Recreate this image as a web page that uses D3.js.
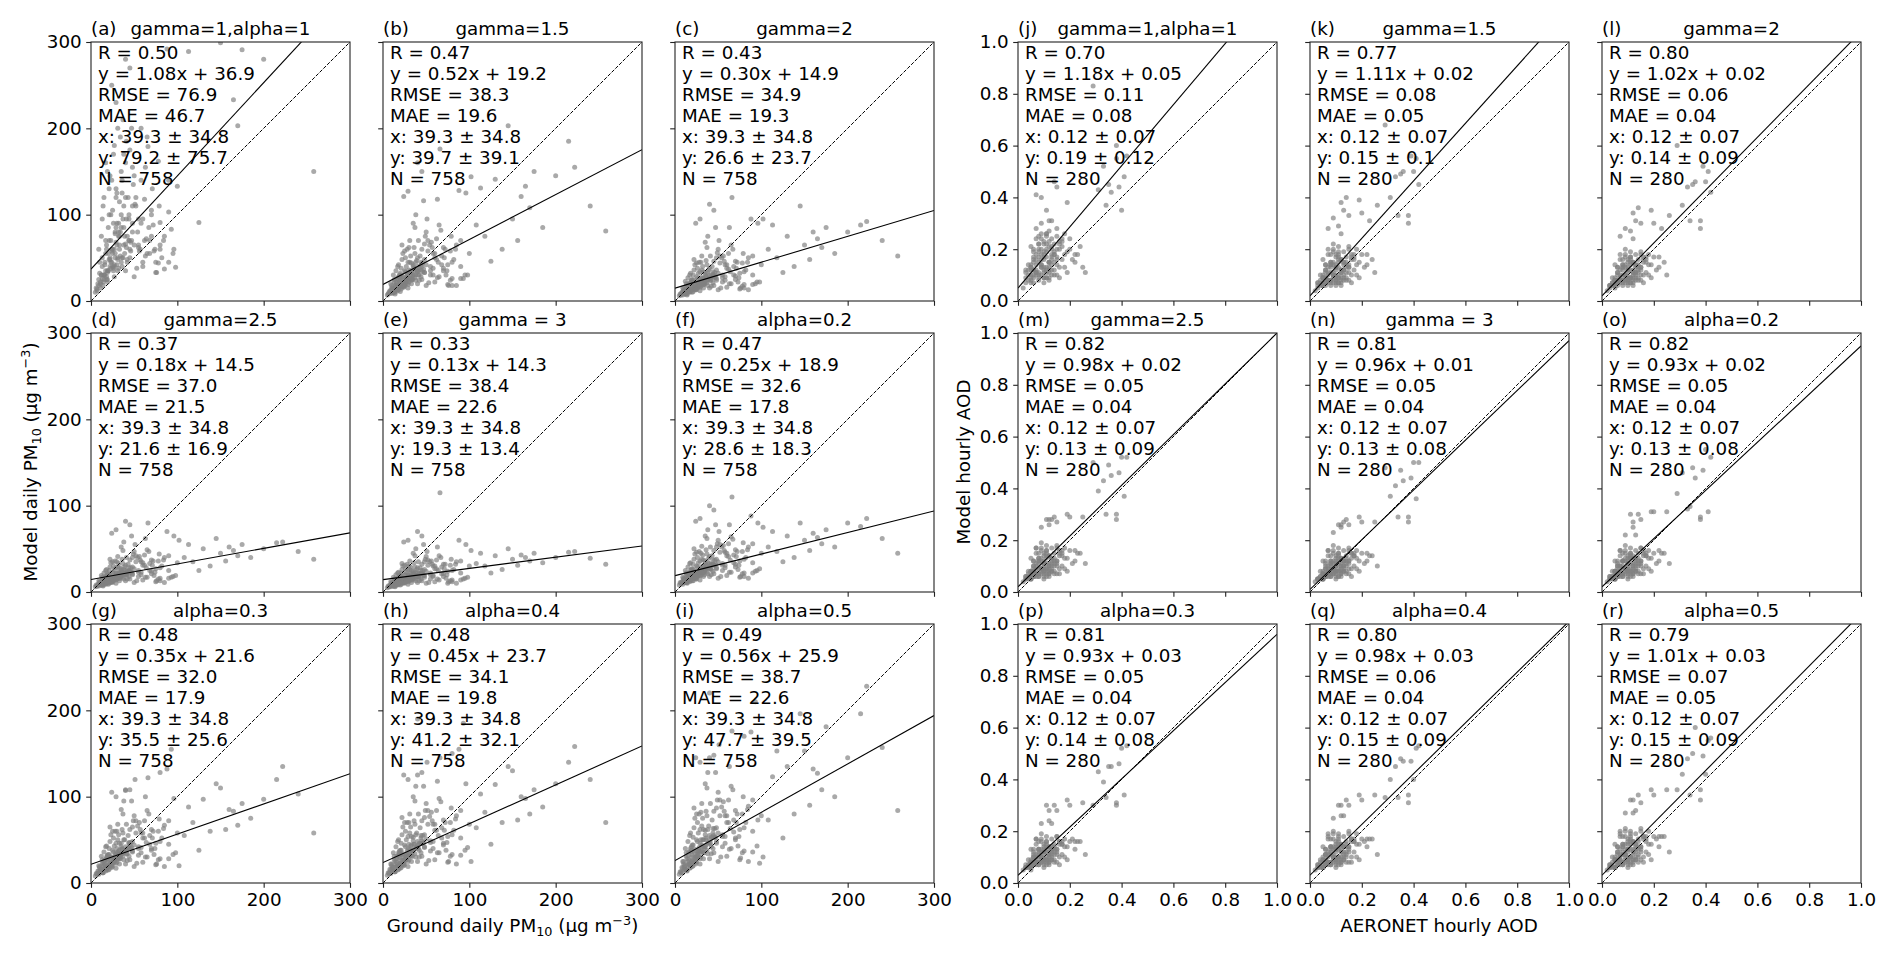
<!DOCTYPE html>
<html><head><meta charset="utf-8">
<script src="https://cdn.jsdelivr.net/npm/d3@7"></script>
<style>body{margin:0;background:#fff} text{font-family:"DejaVu Sans",sans-serif;fill:#000}</style>
</head><body><svg id="c" width="1892" height="956"></svg>
<script>
// ---------------- DATA ----------------
// Ground daily PM10 (x, shared by panels a-i)
const pmX = [
8,10,12,14,15,17,18,20,21,22, 23,24,25,26,27,28,29,30,31,32,
9,11,13,16,19,21,24,26,28,30, 33,34,35,36,37,38,39,40,41,42,
12,15,18,20,22,25,27,29,32,35, 43,44,45,46,47,48,49,50,52,54,
14,17,19,23,26,29,31,34,37,40, 55,57,58,60,62,64,66,68,70,72,
16,20,24,28,33,38,44,50,56,62, 10,13,18,22,27,32,36,41,46,51,
74,76,78,80,82,85,88,90,93,96, 45,52,58,63,67,71,75,79,84,98,
102,108,113,118,125,130,138,145,150,156, 160,165,170,175,185,200,215,222,240,258,
35,40,48,55,60,65,70,80,90,100,
6,9,11,13,15,17,19,21,23,25, 27,29,31,33,35,37,39,42,45,48, 7,12,16,20,24,28,32,36,40,44, 18,22,26,30,34,38,14,19,24,30,
40,45,50,55,60,65,70,75,80,85, 90,95,42,48,53,58,63,68,73,78, 5,7,9,11,13,15,17,19,21,23, 25,27,29,31,33,36,38,41,44,47];
// Model daily PM10 (y) per panel
const yA = [20,45,30,110,25,160,60,35,130,50, 70,140,40,90,180,55,120,65,200,75,
60,15,95,30,150,100,45,170,80,125, 60,190,85,140,50,110,75,160,95,45,
75,120,28,85,40,105,60,230,38,150, 120,70,175,58,200,90,135,65,110,80,
18,70,22,100,35,130,48,80,210,66, 95,60,140,45,118,72,179,55,100,88,
42,55,250,78,115,170,100,145,58,70, 32,50,65,145,28,90,125,185,68,112,
60,33,162,91,50,75,292,103,83,60, 270,120,200,155,85,130,45,110,70,39,
320,350,289,330,91,310,340,360,299,315, 330,233,203,291,380,280,400,320,345,150,
100,280,155,62,95,190,105,65,140,133,
15,25,20,40,30,55,35,70,45,60, 40,85,50,65,45,95,55,75,60,110, 12,30,45,35,60,50,80,40,120,70, 25,48,38,90,52,65,22,33,58,42,
35,50,28,65,40,55,75,33,60,37, 45,55,48,80,38,90,52,70,58,44, 10,14,18,22,26,30,35,25,48,38, 55,42,68,35,75,50,85,62,95,70];
const yB = [12,15,10,18,22,14,25,20,30,16, 28,19,35,22,40,26,31,24,45,30,
20,9,25,13,30,38,17,50,27,62, 33,28,42,36,55,30,47,40,70,38,
30,35,42,11,48,58,20,127,35,90, 52,45,60,34,116,48,75,42,58,65,
8,40,16,55,34,45,70,25,85,50, 40,62,30,55,72,45,176,52,38,60,
26,32,121,60,44,100,36,80,68,48, 18,22,28,65,24,52,62,30,44,95,
35,18,58,18,48,65,128,40,26,125, 150,70,55,118,82,50,42,75,60,30,
144,88,131,75,46,141,60,203,95,70, 121,133,108,150,85,145,185,155,110,81,
40,160,66,35,50,88,62,45,70,55,
8,12,15,10,18,14,22,17,25,20, 28,19,33,24,30,27,35,30,40,33, 9,14,20,24,18,30,26,38,34,42, 13,27,21,36,25,45,10,28,16,22,
20,25,18,30,22,28,35,19,26,18, 26,30,24,33,21,38,27,42,30,24, 7,10,9,13,11,16,12,18,14,21, 17,23,15,26,20,31,24,35,28,37];
const yC = [10,12,8,15,18,11,20,14,24,13, 22,16,28,18,32,20,25,19,36,24,
15,8,20,11,24,30,14,38,21,45, 26,22,33,28,42,24,36,30,52,29,
23,27,32,10,36,44,16,95,27,68, 40,34,46,27,85,36,56,32,44,50,
7,30,13,42,26,34,52,20,62,38, 30,46,24,42,55,34,120,40,29,45,
20,25,90,45,34,75,28,60,52,37, 14,17,22,48,19,40,47,24,33,70,
27,15,44,15,36,50,95,30,20,90, 105,52,42,85,60,38,32,55,45,22,
95,60,88,50,33,75,40,110,65,48, 80,72,62,85,55,80,88,92,70,52,
30,112,50,27,38,65,46,34,52,42,
8,10,12,9,14,12,17,14,19,16, 21,16,24,19,23,21,27,24,30,26, 7,11,15,18,14,22,20,28,26,31, 11,20,16,27,19,33,8,21,13,17,
15,18,13,22,16,20,25,14,19,13, 19,22,17,24,15,28,20,30,22,17, 6,8,7,10,9,12,10,14,11,16, 13,17,12,20,15,24,18,26,21,28];
const yD = [9,11,8,13,15,10,17,12,20,11, 18,14,23,15,26,17,21,16,29,20,
13,8,17,10,20,25,12,30,18,35, 22,19,27,23,33,20,29,25,40,24,
19,22,26,9,29,35,14,72,23,52, 32,28,37,23,65,29,44,27,35,40,
7,25,11,34,22,28,41,18,48,31, 25,37,20,34,43,28,80,33,24,36,
17,21,68,36,28,58,24,47,41,31, 12,15,19,38,16,33,38,20,28,55,
23,13,36,13,30,40,70,25,17,65, 78,42,35,62,47,31,27,44,37,19,
60,40,55,35,25,50,30,62,45,36, 52,48,42,55,40,50,57,58,47,38,
25,82,40,23,31,49,37,28,42,34,
8,9,11,9,12,11,14,12,16,14, 17,14,19,16,19,17,22,20,24,21, 7,10,13,15,12,18,17,22,21,25, 10,17,14,22,16,26,8,18,12,15,
13,15,11,18,14,17,21,12,16,11, 16,18,15,20,13,23,17,25,19,15, 6,7,7,9,8,10,9,12,10,13, 11,14,10,16,13,19,15,21,18,23];
const yE = [8,10,7,12,14,9,15,11,18,10, 16,13,20,14,23,15,19,14,26,18,
12,7,15,9,18,22,11,27,16,30, 20,17,24,21,29,18,26,22,35,21,
17,20,23,8,26,31,13,60,21,45, 28,25,32,21,55,26,38,24,31,35,
6,22,10,30,20,25,36,16,42,28, 22,32,18,30,37,25,115,29,21,32,
15,19,58,32,25,50,21,41,36,27, 11,13,17,33,14,29,34,18,25,47,
20,12,31,12,26,35,60,22,15,55, 65,37,30,52,40,27,24,38,32,17,
48,33,45,30,22,42,26,50,38,31, 43,40,36,45,34,40,46,47,39,32,
22,70,35,20,27,42,32,25,36,30,
7,8,10,8,11,10,12,11,14,12, 15,12,17,14,17,15,19,17,21,19, 6,9,11,13,11,16,15,19,18,22, 9,15,12,19,14,23,7,16,11,13,
11,13,10,15,12,14,18,10,14,10, 14,16,13,17,11,19,15,21,16,13, 5,6,6,8,7,9,8,10,9,11, 10,12,9,14,11,16,13,18,15,19];
const yF = [12,15,11,18,20,14,22,17,26,16, 24,19,30,21,34,23,28,22,38,27,
17,11,22,14,26,32,17,40,24,45, 30,26,36,31,44,28,39,33,52,32,
25,29,34,13,38,46,19,85,30,65, 42,37,48,31,78,38,56,35,46,52,
10,33,15,44,29,36,53,24,62,41, 33,48,28,45,56,37,110,43,32,47,
22,27,82,47,37,72,32,60,54,41, 16,19,25,50,22,43,49,27,37,70,
31,18,47,18,40,52,88,34,24,80, 95,55,46,78,61,41,36,57,49,27,
75,52,70,47,35,65,40,80,60,48, 68,63,56,72,52,80,76,85,62,45,
33,100,52,31,42,64,49,38,56,45,
11,12,14,12,16,15,18,17,20,19, 22,19,25,22,25,23,28,26,31,28, 10,14,17,20,16,23,22,28,27,32, 13,21,18,27,20,34,11,22,15,19,
18,21,16,25,19,23,29,17,22,16, 22,25,20,27,18,31,23,34,26,21, 8,10,9,12,11,14,12,16,13,18, 15,20,14,23,18,27,21,30,24,32];
const yG = [14,18,13,22,25,17,28,20,33,19, 30,23,38,26,43,28,35,27,50,33,
20,13,27,17,32,40,21,52,30,60, 38,32,46,39,58,35,50,42,68,40,
31,36,43,15,48,60,24,100,37,85, 55,47,62,40,95,48,72,44,58,66,
12,42,18,56,36,46,68,30,80,108, 42,62,35,58,72,47,122,55,40,60,
27,33,105,60,46,95,40,78,70,52, 19,23,30,65,27,56,62,34,47,120,
40,22,60,128,52,67,132,45,155,98, 108,72,58,100,80,52,46,74,63,35,
20,55,88,70,38,97,60,115,110,62, 85,83,67,92,75,97,120,135,103,58,
42,107,65,40,52,84,62,48,72,58,
11,14,16,13,20,17,24,20,27,24, 30,23,35,28,34,31,38,34,44,37, 10,16,22,26,20,33,29,40,37,46, 15,30,24,40,28,50,12,31,18,24,
22,27,19,32,24,30,38,21,28,19, 28,33,26,36,23,41,30,45,33,27, 8,11,10,14,12,17,14,20,16,23, 19,25,17,29,22,34,27,38,31,41];
const yH = [16,20,14,25,28,19,32,23,38,21, 34,26,44,30,50,32,40,31,58,37,
22,14,31,19,37,46,24,60,34,70, 44,37,53,45,68,40,58,48,80,46,
35,42,50,17,56,70,27,120,43,100, 64,55,72,46,112,56,84,51,68,77,
13,48,20,65,42,54,80,35,95,125, 49,72,40,68,84,55,145,64,46,70,
31,38,125,70,54,112,46,92,82,61, 22,27,35,76,31,65,72,40,55,140,
47,25,70,150,61,78,155,52,185,115, 128,84,68,118,94,61,54,87,74,41,
25,64,103,82,45,114,70,135,130,73, 100,98,80,108,88,115,140,158,120,70,
49,190,76,47,61,98,73,56,84,68,
12,15,18,14,22,19,27,22,30,27, 33,25,39,31,38,34,42,38,49,41, 11,18,24,29,22,37,32,45,41,52, 16,33,27,45,31,56,13,34,20,27,
25,31,22,37,27,35,44,24,33,22, 32,38,30,42,26,48,35,52,38,31, 9,12,11,16,13,19,15,22,18,26, 21,28,19,33,25,39,30,44,35,47];
const yI = [18,22,16,28,32,21,36,26,44,24, 39,30,50,34,58,37,46,36,66,42,
25,16,35,22,42,53,28,70,39,82, 50,42,61,52,78,46,66,55,92,53,
40,48,58,19,64,80,31,140,50,115, 73,63,83,53,128,64,96,58,78,88,
15,55,23,75,48,62,92,40,110,145, 56,83,46,78,96,63,176,73,52,80,
36,44,145,80,62,128,53,105,94,70, 25,31,40,87,36,75,83,46,63,160,
54,29,80,170,70,89,175,60,210,73, 148,96,78,135,108,70,62,100,85,23,
30,73,123,153,52,135,80,196,153,90, 132,127,108,181,100,145,196,228,157,84,
56,220,87,54,70,112,84,64,96,78,
13,17,20,15,25,21,30,25,34,30, 37,28,44,35,42,38,47,42,55,46, 12,20,27,32,25,41,36,50,46,58, 18,37,30,50,35,62,14,38,22,30,
28,35,25,42,31,40,50,27,37,25, 36,43,34,48,30,54,39,59,43,35, 10,13,12,18,15,21,17,25,20,29, 24,32,22,37,28,44,34,50,40,53];

// AERONET hourly AOD (x, shared by panels j-r)
const aodX = [
0.03,0.04,0.05,0.05,0.06,0.06,0.07,0.07,0.08,0.08, 0.09,0.09,0.10,0.10,0.11,0.11,0.12,0.12,0.13,0.13,
0.04,0.05,0.06,0.07,0.08,0.09,0.10,0.11,0.12,0.13, 0.14,0.14,0.15,0.15,0.16,0.16,0.17,0.18,0.19,0.20,
0.02,0.03,0.05,0.06,0.07,0.08,0.09,0.10,0.11,0.12, 0.06,0.07,0.08,0.09,0.10,0.11,0.12,0.13,0.14,0.15,
0.08,0.09,0.10,0.11,0.12,0.13,0.14,0.15,0.17,0.19, 0.05,0.07,0.09,0.11,0.13,0.15,0.10,0.12,0.14,0.16,
0.20,0.21,0.22,0.22,0.23,0.24,0.25,0.26,
0.29,0.31,0.33,0.34,0.35,0.36,0.38,0.38,0.39,0.40,0.41,0.42,
0.04,0.05,0.06,0.07,0.08,0.09,0.10,0.11,0.12,0.13, 0.05,0.06,0.07,0.08,0.09,0.10,0.11,0.12,0.14,0.16,
0.03,0.06,0.08,0.10,0.12,0.13,0.15,0.17,0.18,0.11,
0.03,0.04,0.05,0.06,0.07,0.08,0.09,0.10,0.11,0.12, 0.13,0.14,0.15,0.16,0.17,0.18,0.19,0.06,0.08,0.10,
0.12,0.14,0.05,0.07,0.09,0.11,0.13,0.15,0.09,0.11];
// Model hourly AOD (y) per panel
const yJ = [0.11,0.12,0.10,0.14,0.09,0.16,0.12,0.18,0.08,0.15, 0.20,0.10,0.22,0.13,0.17,0.25,0.09,0.21,0.14,0.24,
0.08,0.13,0.19,0.24,0.11,0.26,0.16,0.19,0.12,0.18, 0.22,0.15,0.28,0.17,0.23,0.13,0.21,0.26,0.19,0.24,
0.05,0.07,0.21,0.12,0.41,0.17,0.40,0.23,0.35,0.31, 0.10,0.14,0.09,0.18,0.12,0.20,0.15,0.31,0.46,0.44,
0.19,0.24,0.17,0.22,0.27,0.12,0.18,0.25,0.16,0.38, 0.09,0.11,0.13,0.09,0.10,0.14,0.11,0.08,0.12,0.20,
0.20,0.16,0.18,0.15,0.18,0.21,0.13,0.11,
0.83,0.43,0.52,0.37,0.45,0.42,0.60,0.55,0.44,0.35,0.48,0.56,
0.10,0.13,0.15,0.11,0.20,0.14,0.18,0.12,0.23,0.16, 0.08,0.12,0.16,0.10,0.14,0.19,0.11,0.15,0.19,0.22,
0.12,0.07,0.22,0.09,0.13,0.20,0.16,0.23,0.18,0.26,
0.09,0.14,0.07,0.17,0.10,0.22,0.13,0.09,0.26,0.11, 0.17,0.10,0.20,0.09,0.24,0.13,0.11,0.20,0.25,0.07,
0.15,0.18,0.12,0.28,0.16,0.13,0.21,0.10,0.30,0.09];
const yK = [0.07,0.08,0.06,0.10,0.07,0.12,0.08,0.13,0.06,0.11, 0.15,0.07,0.17,0.10,0.13,0.19,0.07,0.16,0.10,0.19,
0.06,0.09,0.14,0.18,0.08,0.20,0.12,0.15,0.09,0.14, 0.17,0.11,0.21,0.13,0.18,0.10,0.16,0.20,0.15,0.18,
0.04,0.05,0.16,0.09,0.28,0.13,0.32,0.18,0.29,0.26, 0.07,0.10,0.07,0.14,0.09,0.16,0.12,0.35,0.40,0.33,
0.14,0.19,0.13,0.17,0.38,0.09,0.14,0.20,0.12,0.39, 0.07,0.08,0.10,0.07,0.08,0.11,0.08,0.06,0.09,0.16,
0.34,0.13,0.18,0.14,0.31,0.16,0.11,0.37,
0.68,0.40,0.48,0.33,0.49,0.50,0.33,0.30,0.56,0.50,0.55,0.45,
0.07,0.09,0.11,0.08,0.14,0.10,0.13,0.09,0.16,0.12, 0.06,0.09,0.11,0.08,0.10,0.14,0.09,0.12,0.15,0.17,
0.07,0.06,0.15,0.08,0.11,0.15,0.13,0.18,0.14,0.21,
0.06,0.10,0.06,0.12,0.07,0.15,0.09,0.07,0.18,0.08, 0.12,0.08,0.14,0.07,0.17,0.10,0.09,0.14,0.18,0.06,
0.11,0.13,0.09,0.20,0.11,0.10,0.15,0.08,0.22,0.07];
const yL = [0.06,0.07,0.06,0.09,0.07,0.11,0.08,0.12,0.06,0.10, 0.14,0.07,0.15,0.09,0.12,0.17,0.07,0.15,0.10,0.18,
0.06,0.08,0.13,0.16,0.08,0.18,0.11,0.14,0.09,0.13, 0.16,0.11,0.19,0.12,0.17,0.10,0.15,0.18,0.14,0.17,
0.04,0.05,0.14,0.08,0.25,0.12,0.28,0.16,0.27,0.24, 0.07,0.09,0.07,0.13,0.09,0.15,0.11,0.31,0.36,0.30,
0.13,0.17,0.12,0.16,0.34,0.09,0.13,0.18,0.11,0.35, 0.06,0.08,0.09,0.07,0.08,0.10,0.08,0.06,0.09,0.15,
0.30,0.12,0.17,0.13,0.28,0.15,0.10,0.33,
0.60,0.37,0.44,0.31,0.45,0.46,0.31,0.28,0.52,0.46,0.50,0.42,
0.07,0.08,0.10,0.08,0.13,0.10,0.12,0.09,0.15,0.11, 0.06,0.08,0.10,0.08,0.10,0.13,0.09,0.12,0.14,0.16,
0.06,0.06,0.14,0.08,0.11,0.14,0.13,0.17,0.14,0.19,
0.06,0.09,0.05,0.11,0.07,0.14,0.08,0.07,0.17,0.08, 0.11,0.08,0.13,0.07,0.16,0.10,0.09,0.13,0.16,0.06,
0.10,0.12,0.08,0.18,0.10,0.09,0.14,0.08,0.20,0.07];
const yM = [0.06,0.07,0.05,0.08,0.06,0.10,0.07,0.11,0.06,0.09, 0.13,0.07,0.14,0.09,0.11,0.16,0.07,0.14,0.09,0.17,
0.05,0.08,0.12,0.15,0.07,0.17,0.10,0.13,0.08,0.12, 0.15,0.10,0.18,0.11,0.16,0.09,0.14,0.17,0.13,0.16,
0.04,0.05,0.13,0.08,0.17,0.11,0.25,0.15,0.28,0.26, 0.06,0.09,0.06,0.12,0.08,0.14,0.10,0.28,0.29,0.27,
0.12,0.16,0.11,0.15,0.28,0.08,0.12,0.17,0.10,0.30, 0.06,0.07,0.09,0.07,0.08,0.10,0.07,0.06,0.08,0.14,
0.29,0.11,0.16,0.12,0.15,0.15,0.29,0.11,
0.50,0.39,0.43,0.30,0.49,0.45,0.30,0.28,0.46,0.52,0.37,0.52,
0.06,0.08,0.09,0.07,0.12,0.09,0.11,0.09,0.14,0.11, 0.05,0.08,0.10,0.07,0.09,0.12,0.09,0.11,0.13,0.15,
0.06,0.06,0.13,0.08,0.10,0.13,0.12,0.16,0.13,0.18,
0.05,0.08,0.05,0.10,0.06,0.13,0.08,0.06,0.16,0.07, 0.10,0.07,0.12,0.07,0.15,0.09,0.08,0.12,0.15,0.05,
0.09,0.11,0.07,0.17,0.09,0.08,0.13,0.07,0.19,0.06];
const yN = [0.05,0.06,0.05,0.08,0.06,0.09,0.07,0.10,0.06,0.09, 0.12,0.07,0.13,0.08,0.11,0.15,0.07,0.13,0.09,0.16,
0.05,0.07,0.11,0.14,0.07,0.16,0.10,0.12,0.08,0.12, 0.14,0.10,0.17,0.11,0.15,0.09,0.14,0.16,0.12,0.15,
0.04,0.05,0.12,0.07,0.16,0.10,0.23,0.14,0.26,0.25, 0.06,0.08,0.06,0.11,0.08,0.13,0.10,0.27,0.28,0.26,
0.11,0.15,0.10,0.14,0.26,0.08,0.12,0.16,0.10,0.29, 0.05,0.07,0.08,0.06,0.08,0.09,0.07,0.06,0.08,0.13,
0.27,0.11,0.15,0.12,0.14,0.14,0.27,0.10,
0.48,0.37,0.41,0.29,0.47,0.43,0.29,0.27,0.44,0.50,0.36,0.50,
0.06,0.07,0.09,0.07,0.11,0.09,0.11,0.08,0.13,0.10, 0.05,0.07,0.09,0.07,0.09,0.12,0.09,0.11,0.13,0.15,
0.05,0.06,0.12,0.08,0.10,0.12,0.12,0.15,0.13,0.17,
0.05,0.08,0.05,0.10,0.06,0.12,0.07,0.06,0.15,0.07, 0.10,0.07,0.12,0.06,0.14,0.09,0.08,0.12,0.14,0.05,
0.09,0.11,0.07,0.16,0.09,0.08,0.12,0.07,0.18,0.06];
const yO = [0.06,0.06,0.05,0.08,0.06,0.10,0.07,0.10,0.06,0.09, 0.13,0.07,0.13,0.09,0.11,0.15,0.07,0.14,0.09,0.16,
0.05,0.08,0.11,0.14,0.07,0.16,0.10,0.13,0.08,0.12, 0.15,0.10,0.17,0.11,0.16,0.09,0.14,0.16,0.13,0.15,
0.04,0.05,0.12,0.08,0.16,0.10,0.22,0.14,0.30,0.25, 0.06,0.08,0.06,0.12,0.08,0.13,0.10,0.22,0.30,0.28,
0.12,0.15,0.11,0.14,0.27,0.08,0.12,0.17,0.10,0.31, 0.05,0.07,0.09,0.07,0.08,0.10,0.07,0.06,0.08,0.14,
0.31,0.11,0.16,0.12,0.15,0.15,0.31,0.11,
0.38,0.46,0.32,0.33,0.48,0.44,0.29,0.28,0.47,0.55,0.31,0.52,
0.06,0.08,0.09,0.07,0.12,0.09,0.11,0.08,0.13,0.11, 0.05,0.07,0.10,0.07,0.09,0.12,0.09,0.11,0.13,0.15,
0.06,0.06,0.12,0.08,0.10,0.13,0.12,0.15,0.13,0.17,
0.05,0.08,0.05,0.10,0.06,0.12,0.08,0.06,0.15,0.07, 0.10,0.07,0.12,0.07,0.14,0.09,0.08,0.12,0.15,0.05,
0.09,0.11,0.07,0.16,0.09,0.08,0.13,0.07,0.18,0.06];
const yP = [0.07,0.07,0.06,0.09,0.07,0.10,0.08,0.11,0.07,0.10, 0.13,0.08,0.14,0.09,0.12,0.16,0.08,0.14,0.10,0.17,
0.06,0.08,0.12,0.15,0.08,0.17,0.11,0.13,0.09,0.13, 0.15,0.11,0.18,0.12,0.16,0.10,0.15,0.17,0.14,0.16,
0.05,0.06,0.13,0.09,0.17,0.11,0.23,0.15,0.30,0.24, 0.07,0.09,0.07,0.12,0.09,0.14,0.11,0.23,0.30,0.28,
0.13,0.16,0.12,0.15,0.28,0.09,0.13,0.18,0.11,0.32, 0.06,0.08,0.09,0.08,0.09,0.11,0.08,0.07,0.09,0.15,
0.30,0.17,0.16,0.13,0.16,0.16,0.31,0.11,
0.30,0.43,0.39,0.33,0.45,0.45,0.31,0.30,0.46,0.52,0.34,0.53,
0.07,0.08,0.10,0.08,0.12,0.10,0.12,0.09,0.14,0.12, 0.06,0.08,0.10,0.08,0.10,0.13,0.10,0.12,0.14,0.16,
0.06,0.07,0.13,0.09,0.11,0.13,0.13,0.16,0.14,0.18,
0.06,0.09,0.05,0.11,0.07,0.13,0.08,0.07,0.16,0.08, 0.11,0.08,0.13,0.07,0.15,0.10,0.09,0.13,0.16,0.06,
0.10,0.12,0.08,0.17,0.10,0.09,0.14,0.08,0.19,0.07];
const yQ = [0.07,0.08,0.06,0.10,0.07,0.11,0.08,0.12,0.07,0.11, 0.14,0.08,0.15,0.10,0.13,0.18,0.08,0.15,0.10,0.18,
0.06,0.09,0.13,0.17,0.08,0.19,0.12,0.14,0.09,0.14, 0.16,0.11,0.20,0.13,0.17,0.10,0.16,0.19,0.15,0.17,
0.05,0.06,0.14,0.09,0.19,0.12,0.25,0.16,0.30,0.26, 0.07,0.10,0.07,0.13,0.09,0.15,0.12,0.26,0.32,0.30,
0.14,0.17,0.13,0.16,0.30,0.09,0.14,0.19,0.12,0.34, 0.06,0.08,0.10,0.08,0.09,0.12,0.08,0.07,0.10,0.16,
0.32,0.16,0.17,0.14,0.17,0.17,0.34,0.11,
0.33,0.40,0.45,0.33,0.48,0.47,0.34,0.31,0.47,0.40,0.52,0.53,
0.07,0.09,0.11,0.08,0.13,0.10,0.13,0.10,0.15,0.12, 0.06,0.09,0.11,0.08,0.10,0.14,0.10,0.13,0.15,0.17,
0.07,0.07,0.14,0.09,0.12,0.14,0.14,0.17,0.15,0.19,
0.06,0.09,0.06,0.11,0.07,0.14,0.09,0.07,0.17,0.08, 0.11,0.08,0.14,0.08,0.16,0.10,0.09,0.13,0.17,0.06,
0.10,0.12,0.08,0.18,0.11,0.09,0.14,0.08,0.20,0.07];
const yR = [0.07,0.08,0.06,0.10,0.08,0.12,0.09,0.13,0.07,0.11, 0.15,0.08,0.16,0.10,0.13,0.19,0.08,0.16,0.10,0.19,
0.06,0.09,0.14,0.18,0.08,0.20,0.12,0.15,0.09,0.14, 0.17,0.11,0.21,0.13,0.18,0.10,0.16,0.20,0.15,0.18,
0.05,0.06,0.15,0.09,0.20,0.12,0.27,0.17,0.32,0.27, 0.07,0.10,0.07,0.13,0.09,0.16,0.12,0.28,0.34,0.31,
0.14,0.18,0.13,0.17,0.32,0.09,0.14,0.20,0.12,0.36, 0.06,0.08,0.10,0.08,0.09,0.12,0.08,0.07,0.10,0.17,
0.34,0.17,0.18,0.14,0.18,0.18,0.36,0.12,
0.36,0.42,0.48,0.34,0.50,0.60,0.36,0.32,0.49,0.42,0.55,0.56,
0.07,0.09,0.11,0.09,0.14,0.11,0.13,0.10,0.16,0.13, 0.06,0.09,0.11,0.08,0.11,0.15,0.10,0.13,0.16,0.18,
0.07,0.07,0.15,0.09,0.12,0.15,0.14,0.18,0.15,0.20,
0.06,0.10,0.06,0.12,0.07,0.15,0.09,0.07,0.18,0.09, 0.12,0.08,0.14,0.08,0.17,0.11,0.09,0.14,0.18,0.06,
0.11,0.13,0.09,0.19,0.11,0.10,0.15,0.09,0.21,0.07];

// Panel annotations
const letters = ["a","b","c","d","e","f","g","h","i","j","k","l","m","n","o","p","q","r"];
const titles = ["gamma=1,alpha=1","gamma=1.5","gamma=2","gamma=2.5","gamma = 3","alpha=0.2","alpha=0.3","alpha=0.4","alpha=0.5",
                "gamma=1,alpha=1","gamma=1.5","gamma=2","gamma=2.5","gamma = 3","alpha=0.2","alpha=0.3","alpha=0.4","alpha=0.5"];
const rVals = ["0.50","0.47","0.43","0.37","0.33","0.47","0.48","0.48","0.49","0.70","0.77","0.80","0.82","0.81","0.82","0.81","0.80","0.79"];
const slopes = [1.08,0.52,0.30,0.18,0.13,0.25,0.35,0.45,0.56,1.18,1.11,1.02,0.98,0.96,0.93,0.93,0.98,1.01];
const intercepts = [36.9,19.2,14.9,14.5,14.3,18.9,21.6,23.7,25.9,0.05,0.02,0.02,0.02,0.01,0.02,0.03,0.03,0.03];
const rmse = ["76.9","38.3","34.9","37.0","38.4","32.6","32.0","34.1","38.7","0.11","0.08","0.06","0.05","0.05","0.05","0.05","0.06","0.07"];
const mae = ["46.7","19.6","19.3","21.5","22.6","17.8","17.9","19.8","22.6","0.08","0.05","0.04","0.04","0.04","0.04","0.04","0.04","0.05"];
const xStat = ["39.3 ± 34.8","0.12 ± 0.07"];
const yStat = ["79.2 ± 75.7","39.7 ± 39.1","26.6 ± 23.7","21.6 ± 16.9","19.3 ± 13.4","28.6 ± 18.3","35.5 ± 25.6","41.2 ± 32.1","47.7 ± 39.5",
               "0.19 ± 0.12","0.15 ± 0.1","0.14 ± 0.09","0.13 ± 0.09","0.13 ± 0.08","0.13 ± 0.08","0.14 ± 0.08","0.15 ± 0.09","0.15 ± 0.09"];
const nVals = [758, 280];
const pmTicks = [0,100,200,300];
const aodTicks = [0,0.2,0.4,0.6,0.8,1.0];
const pmY = [yA,yB,yC,yD,yE,yF,yG,yH,yI];
const aodY = [yJ,yK,yL,yM,yN,yO,yP,yQ,yR];

// ---------------- LAYOUT ----------------
const S = 259, FS = 18.3;
const colLeft = [91,383,675,1018,1310,1602];
const rowTop = [42,333,624];
const svg = d3.select("#c");

for (let p = 0; p < 18; p++) {
  const isPM = p < 9, k = isPM ? p : p - 9;
  const col = (isPM ? 0 : 3) + k % 3, row = Math.floor(k / 3);
  const dom = isPM ? [0,300] : [0,1];
  const ticks = isPM ? pmTicks : aodTicks;
  const fmt = isPM ? d3.format("d") : d3.format(".1f");
  const x = d3.scaleLinear().domain(dom).range([0,S]);
  const y = d3.scaleLinear().domain(dom).range([S,0]);
  const g = svg.append("g").attr("transform", `translate(${colLeft[col]},${rowTop[row]})`);
  const cid = "clip" + p;
  g.append("clipPath").attr("id", cid).append("rect").attr("width", S).attr("height", S);
  const plot = g.append("g").attr("clip-path", `url(#${cid})`);
  const xs = isPM ? pmX : aodX, ys = isPM ? pmY[k] : aodY[k];
  plot.selectAll("circle").data(d3.zip(xs, ys)).join("circle")
    .attr("cx", d => x(d[0])).attr("cy", d => y(d[1])).attr("r", 2.5)
    .attr("fill", "#808080").attr("fill-opacity", 0.68);
  // 1:1 line
  plot.append("line").attr("x1", x(dom[0])).attr("y1", y(dom[0])).attr("x2", x(dom[1])).attr("y2", y(dom[1]))
    .attr("stroke", "#000").attr("stroke-width", 1).attr("stroke-dasharray", "3.7,1.6");
  // regression line
  const f = v => slopes[p] * v + intercepts[p];
  plot.append("line").attr("x1", x(dom[0])).attr("y1", y(f(dom[0]))).attr("x2", x(dom[1])).attr("y2", y(f(dom[1])))
    .attr("stroke", "#000").attr("stroke-width", 1.1);
  // stats text
  const ic = isPM ? intercepts[p].toFixed(1) : intercepts[p].toFixed(2);
  const lines = [`R = ${rVals[p]}`, `y = ${slopes[p].toFixed(2)}x + ${ic}`, `RMSE = ${rmse[p]}`, `MAE = ${mae[p]}`,
                 `x: ${xStat[isPM?0:1]}`, `y: ${yStat[p]}`, `N = ${nVals[isPM?0:1]}`];
  g.selectAll("text.st").data(lines).join("text").attr("class","st")
    .attr("x", 7).attr("y", (d,i) => 16.6 + i * 21).attr("font-size", FS).text(d => d);
  // frame
  g.append("rect").attr("width", S).attr("height", S).attr("fill", "none").attr("stroke", "#222").attr("stroke-width", 1.1);
  // axes
  const ya = d3.axisLeft(y).tickValues(ticks).tickSize(4.8).tickSizeOuter(0).tickPadding(4.5)
    .tickFormat(col % 3 === 0 ? fmt : () => "");
  const xa = d3.axisBottom(x).tickValues(ticks).tickSize(4.8).tickSizeOuter(0).tickPadding(5.5)
    .tickFormat(row === 2 ? fmt : () => "");
  const yg = g.append("g").call(ya), xg = g.append("g").attr("transform", `translate(0,${S})`).call(xa);
  [yg, xg].forEach(a => {
    a.select(".domain").remove();
    a.selectAll(".tick line").attr("stroke", "#222").attr("stroke-width", 1.1);
    a.selectAll(".tick text").attr("font-size", FS).attr("font-family", "DejaVu Sans").attr("fill", "#000");
  });
  // title
  g.append("text").attr("x", 0).attr("y", -7.5).attr("font-size", FS).text(`(${letters[p]})`);
  g.append("text").attr("x", S/2).attr("y", -7.5).attr("font-size", FS).attr("text-anchor", "middle").text(titles[p]);
}

// axis titles
function unitLabel(sel, pre) {
  sel.append("tspan").text(pre);
  sel.append("tspan").attr("font-size", FS*0.7).attr("dy", 4).text("10");
  sel.append("tspan").attr("dy", -4).text(" (μg m");
  sel.append("tspan").attr("font-size", FS*0.7).attr("dy", -7).text("−3");
  sel.append("tspan").attr("dy", 7).text(")");
}
const yl1 = svg.append("text").attr("transform", "translate(36.5,462) rotate(-90)").attr("text-anchor","middle").attr("font-size", FS);
unitLabel(yl1, "Model daily PM");
const xl1 = svg.append("text").attr("x", 512.5).attr("y", 932).attr("text-anchor","middle").attr("font-size", FS);
unitLabel(xl1, "Ground daily PM");
svg.append("text").attr("transform", "translate(970,462) rotate(-90)").attr("text-anchor","middle").attr("font-size", FS).text("Model hourly AOD");
svg.append("text").attr("x", 1439).attr("y", 932).attr("text-anchor","middle").attr("font-size", FS).text("AERONET hourly AOD");
</script></body></html>
